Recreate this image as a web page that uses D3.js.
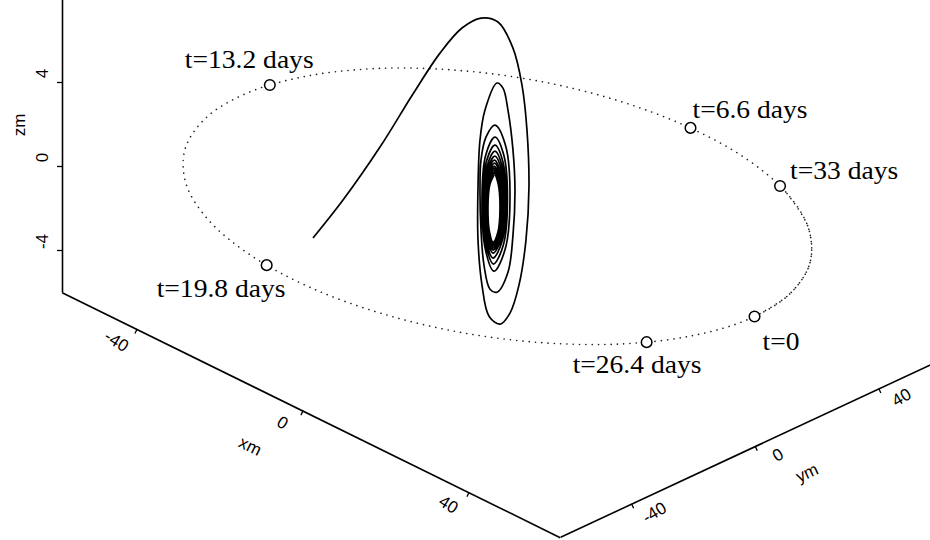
<!DOCTYPE html>
<html><head><meta charset="utf-8">
<script src="https://cdn.jsdelivr.net/npm/d3@7"></script>
<style>body{margin:0;background:#fff}</style>
</head><body>
<svg id="chart" width="930" height="540"></svg>
<script>
// ---------------- data ----------------
const xTicks = [-40, 0, 40];
const yTicks = [-40, 0, 40];
const zTicks = [-4, 0, 4];
const xDomain = [-58, 62];
const yDomain = [-63, 60];
const zDomain = [-6, 8];
const axisNames = ["xm", "ym", "zm"];

// dotted orbit, t = 0 ... 33 days (xm, ym, zm)
const orbitX = [60.78, 58.73, 52.65, 42.99, 30.40, 15.74, 0, -15.74, -30.40, -42.99, -52.65, -58.73, -60.80, -58.73, -52.65, -42.99, -30.40, -15.74, 0, 15.74, 30.40, 42.99, 52.65, 58.73, 60.80, 58.73, 52.65, 42.99, 30.40, 27.88];
const orbitY = [1.59, 15.74, 30.40, 42.99, 52.65, 58.73, 60.80, 58.73, 52.65, 42.99, 30.40, 15.74, 0, -15.74, -30.40, -42.99, -52.65, -58.73, -60.80, -58.73, -52.65, -42.99, -30.40, -15.74, 0, 15.74, 30.40, 42.99, 52.65, 54.03];
const orbitZ = [-0.05, -0.14, -0.28, -0.43, -0.60, -0.77, -0.93, -1.06, -1.16, -1.23, -1.25, -1.23, -1.16, -1.06, -0.93, -0.77, -0.60, -0.43, -0.28, -0.14, -0.04, 0.03, 0.05, 0.03, -0.04, -0.14, -0.28, -0.43, -0.60, -0.63];

// time markers on the orbit
const markerLabels = ["t=0", "t=6.6 days", "t=13.2 days", "t=19.8 days", "t=26.4 days", "t=33 days"];
const markerX = [60.78, 1.27, -60.35, -11.08, 55.10, 27.88];
const markerY = [1.59, 60.79, 7.41, -59.78, -25.70, 54.03];
const markerZ = [-0.05, -0.91, -1.20, -0.38, 0.05, -0.63];

// solid trajectory spiralling into the centre (xm, ym, zm)
const pathX = [
  -44.43, -37.20, -28.29, -20.34, -13.83, -8.53, -3.95, 0.14, 3.76, 5.93, 7.13, 7.61, 6.89, 5.20, 3.04, 0.63,
  -2.02, -3.71, -4.67, -4.67, -4.19, -2.99, -0.10, 1.35, 2.55, 3.76, 4.24, 3.76, 2.55, -0.10, -1.78, -3.23,
  -3.95, -4.19, -3.95, -2.75, -0.58,
  1.98, 3.04, 1.90, -0.82, -2.87, -3.71, -2.80, -0.58,
  1.54, 2.43, 1.45, -0.94, -2.72, -3.47, -2.63, -0.58,
  1.30, 2.07, 1.16, -1.06, -2.60, -3.23, -2.46, -0.58,
  1.13, 1.83, 0.99, -1.06, -2.51, -3.11, -2.36, -0.58,
  0.96, 1.59, 0.82, -1.06, -2.43, -2.99, -2.31, -0.70,
  0.75, 1.35, 0.65, -1.06, -2.34, -2.87, -2.24, -0.70,
  0.67, 1.23, 0.55, -1.06, -2.24, -2.75, -2.19, -0.82,
  0.55, 1.11, 0.48, -1.06, -2.17, -2.63, -2.10, -0.82,
  0.46, 0.99, 0.39, -1.06, -2.07, -2.51, -2.00, -0.82,
  0.39, 0.87, 0.31, -1.06, -2.00, -2.39, -1.93, -0.82,
  0.29, 0.75, 0.22, -1.06, -1.90, -2.27, -1.83, -0.82,
  0.19, 0.63, 0.12, -1.06, -1.90, -2.27, -1.83, -0.82];
const pathY = [
  0, 0, 0, 0, 0, 0, 0, 0, 0, 0, 0, 0, 0, 0, 0, 0,
  0, 0, 0, 0, 0, 0, 0, 0, 0, 0, 0, 0, 0, 0, 0, 0,
  0, 0, 0, 0, 0,
  0, 0, 0, 0, 0, 0, 0, 0,
  0, 0, 0, 0, 0, 0, 0, 0,
  0, 0, 0, 0, 0, 0, 0, 0,
  0, 0, 0, 0, 0, 0, 0, 0,
  0, 0, 0, 0, 0, 0, 0, 0,
  0, 0, 0, 0, 0, 0, 0, 0,
  0, 0, 0, 0, 0, 0, 0, 0,
  0, 0, 0, 0, 0, 0, 0, 0,
  0, 0, 0, 0, 0, 0, 0, 0,
  0, 0, 0, 0, 0, 0, 0, 0,
  0, 0, 0, 0, 0, 0, 0, 0,
  0, 0, 0, 0, 0, 0, 0, 0];
const pathZ = [
  -6.43, -3.92, -0.53, 2.77, 5.35, 7.06, 7.98, 8.19, 7.30, 5.75, 3.72, 1.05, -1.54, -3.85, -5.39, -6.15,
  -6.03, -4.71, -2.66, -0.14, 2.15, 3.69, 5.26, 5.16, 4.23, 2.44, 0.58, -1.61, -3.49, -4.70, -4.72, -3.71,
  -2.12, -0.24, 1.22, 2.43, 3.21,
  2.48, 0.23, -2.44, -3.77, -2.95, -0.57, 1.57, 2.64,
  1.99, 0.03, -2.29, -3.44, -2.72, -0.64, 1.29, 2.26,
  1.67, -0.10, -2.14, -3.17, -2.52, -0.67, 1.09, 1.97,
  1.43, -0.22, -2.02, -2.93, -2.36, -0.70, 0.92, 1.73,
  1.23, -0.29, -1.95, -2.79, -2.27, -0.74, 0.78, 1.53,
  1.06, -0.36, -1.91, -2.69, -2.20, -0.77, 0.67, 1.39,
  0.94, -0.42, -1.87, -2.60, -2.14, -0.81, 0.56, 1.23,
  0.83, -0.44, -1.84, -2.55, -2.12, -0.85, 0.49, 1.14,
  0.73, -0.49, -1.83, -2.50, -2.07, -0.83, 0.43, 1.04,
  0.65, -0.55, -1.82, -2.46, -2.05, -0.87, 0.35, 0.95,
  0.57, -0.57, -1.81, -2.43, -2.02, -0.86, 0.31, 0.88,
  0.49, -0.62, -1.82, -2.41, -2.01, -0.91, 0.25, 0.81];

// ---------------- layout / style ----------------
const corner = [62, 292];                 // (xmin, ymin, zmin) on screen
const xVec = [498, 245];                  // screen run of the x axis
const yVec = [380.1, -177.1];             // screen run of the y axis
const zRun = 294;                         // screen height of the z axis
const labelOffsets = [[8, 33], [2, -10], [-85, -17], [-110, 32], [-74, 31], [10, -7]];
const serif = "'Liberation Serif','Times New Roman',Times,serif";
const sans = "'Liberation Sans',Arial,Helvetica,sans-serif";

const svg = d3.select("#chart");
svg.append("rect").attr("width", 930).attr("height", 540).attr("fill", "#fff");

const angX = Math.atan2(xVec[1], xVec[0]), lenX = Math.hypot(xVec[0], xVec[1]);
const angY = Math.atan2(yVec[1], yVec[0]), lenY = Math.hypot(yVec[0], yVec[1]);
const deg = r => r * 180 / Math.PI;

const xs = d3.scaleLinear().domain(xDomain).range([0, lenX]);
const ys = d3.scaleLinear().domain(yDomain).range([0, lenY]);
const zs = d3.scaleLinear().domain(zDomain).range([corner[1], corner[1] - zRun]);

function proj(x, y, z) {
  const a = xs(x), b = ys(y);
  return [corner[0] + a * Math.cos(angX) + b * Math.cos(angY),
          zs(z) + a * Math.sin(angX) + b * Math.sin(angY)];
}
const cornerB = [corner[0] + xVec[0], corner[1] + xVec[1]];

// ---------------- orbit ----------------
const orbit = orbitX.map((x, i) => proj(x, orbitY[i], orbitZ[i]));
svg.append("path")
  .attr("d", d3.line().curve(d3.curveCatmullRom)(orbit))
  .attr("fill", "none").attr("stroke", "#222").attr("stroke-width", 1.6)
  .attr("stroke-linecap", "round").attr("stroke-dasharray", "0.1 6.2");

// ---------------- trajectory ----------------
const traj = pathX.map((x, i) => proj(x, pathY[i], pathZ[i]));
svg.append("path")
  .attr("d", d3.line().curve(d3.curveCatmullRom.alpha(0.5))(traj))
  .attr("fill", "none").attr("stroke", "#000").attr("stroke-width", 1.7)
  .attr("stroke-linejoin", "round");

// ---------------- markers + labels ----------------
const marks = markerX.map((x, i) => proj(x, markerY[i], markerZ[i]));
svg.selectAll("circle.m").data(marks).enter().append("circle")
  .attr("class", "m").attr("cx", d => d[0]).attr("cy", d => d[1]).attr("r", 5.3)
  .attr("fill", "#fff").attr("stroke", "#000").attr("stroke-width", 1.5);
svg.selectAll("g.lab").data(marks).enter().append("g")
  .attr("class", "lab")
  .attr("transform", (d, i) => `translate(${d[0] + labelOffsets[i][0]},${d[1] + labelOffsets[i][1]}) scale(1.06,1)`)
  .append("text").text((d, i) => markerLabels[i])
  .attr("font-family", serif).attr("font-size", 26).attr("fill", "#000");

// ---------------- axes ----------------
function styleAxis(g) {
  g.select(".domain").attr("stroke", "#000").attr("stroke-width", 1.6);
  g.selectAll(".tick line").attr("stroke", "#000").attr("stroke-width", 1.3);
  g.selectAll(".tick text").attr("font-family", sans).attr("font-size", 17).attr("fill", "#000");
}
const fmt = d => String(d);

const gx = svg.append("g")
  .attr("transform", `translate(${corner[0]},${corner[1]}) rotate(${deg(angX)})`)
  .call(d3.axisBottom(xs).tickValues(xTicks).tickSize(5).tickSizeOuter(0).tickFormat(fmt));
styleAxis(gx);
gx.selectAll(".tick text").attr("x", -11).attr("y", 21).attr("dy", "0.35em")
  .attr("text-anchor", "middle").attr("transform", "rotate(6)");
gx.append("text").text(axisNames[0]).attr("x", 237).attr("y", 55).attr("dy", "0.35em")
  .attr("text-anchor", "middle").attr("font-family", sans).attr("font-size", 17).attr("fill", "#000");

const gy = svg.append("g")
  .attr("transform", `translate(${cornerB[0]},${cornerB[1]}) rotate(${deg(angY)})`)
  .call(d3.axisBottom(ys).tickValues(yTicks).tickSize(5).tickSizeOuter(0).tickFormat(fmt));
styleAxis(gy);
gy.selectAll(".tick text").attr("x", 15).attr("y", 19).attr("dy", "0.35em")
  .attr("text-anchor", "middle").attr("transform", "rotate(-6)");
gy.append("text").text(axisNames[1]).attr("x", 251).attr("y", 46).attr("dy", "0.35em")
  .attr("text-anchor", "middle").attr("font-family", sans).attr("font-size", 17).attr("fill", "#000");

const gz = svg.append("g")
  .attr("transform", `translate(${corner[0]},0)`)
  .call(d3.axisLeft(zs).tickValues(zTicks).tickSize(5).tickSizeOuter(0).tickFormat(fmt));
styleAxis(gz);
gz.selectAll(".tick text").attr("x", null)
  .attr("text-anchor", "middle")
  .attr("transform", "translate(-20,-9) rotate(-90)").attr("dy", "0.35em");
svg.append("text").text(axisNames[2])
  .attr("transform", "translate(19,125) rotate(-90)").attr("dy", "0.35em")
  .attr("text-anchor", "middle").attr("font-family", sans).attr("font-size", 17).attr("fill", "#000");
</script>
</body></html>
